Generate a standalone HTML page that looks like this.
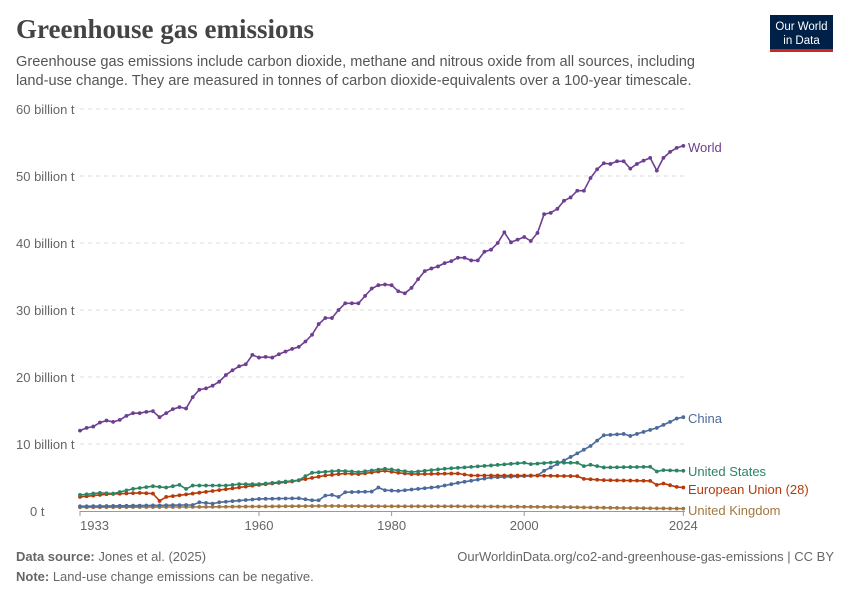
<!DOCTYPE html>
<html><head><meta charset="utf-8"><style>
body{margin:0;background:#fff;font-family:"Liberation Sans",sans-serif;}
svg{display:block}
</style></head><body>
<svg id="s" width="850" height="600" xmlns="http://www.w3.org/2000/svg" font-family="Liberation Sans, sans-serif">
<text x="16" y="38" font-family="Liberation Serif, serif" font-size="27" font-weight="bold" fill="#444">Greenhouse gas emissions</text>
<text x="16" y="66" font-size="14.6" fill="#555">Greenhouse gas emissions include carbon dioxide, methane and nitrous oxide from all sources, including</text>
<text x="16" y="85" font-size="14.6" fill="#555">land-use change. They are measured in tonnes of carbon dioxide-equivalents over a 100-year timescale.</text>
<rect x="770" y="15" width="63" height="35" fill="#002147"/>
<rect x="770" y="49" width="63" height="3" fill="#ce261e"/>
<text x="801.5" y="30" font-size="11.5" fill="#fff" text-anchor="middle">Our World</text>
<text x="801.5" y="44" font-size="11.5" fill="#fff" text-anchor="middle">in Data</text>
<g id="grid"></g>
<g id="series"></g>
<text x="16" y="561" font-size="13" fill="#666"><tspan font-weight="bold">Data source:</tspan> Jones et al. (2025)</text>
<text x="834" y="561" font-size="13" fill="#666" text-anchor="end">OurWorldinData.org/co2-and-greenhouse-gas-emissions | CC BY</text>
<text x="16" y="581" font-size="13" fill="#666"><tspan font-weight="bold">Note:</tspan> Land-use change emissions can be negative.</text>
</svg>
<script>
const NS="http://www.w3.org/2000/svg";
const X=y=>80+(y-1933)*6.63, Y=v=>511-v*6.7;
const g=document.getElementById('grid'), s=document.getElementById('series');
function el(p,t,a,txt){const e=document.createElementNS(NS,t);for(const k in a)e.setAttribute(k,a[k]);if(txt)e.textContent=txt;p.appendChild(e);return e;}
for(let i=1;i<=6;i++){const y=Y(i*10);
 el(g,'line',{x1:80,x2:685,y1:y,y2:y,stroke:'#ddd','stroke-dasharray':'4,4'});
 el(g,'text',{x:16,y:y+5,'font-size':13,fill:'#666'},i*10+' billion t');}
el(g,'text',{x:30,y:516,'font-size':13,fill:'#666'},'0 t');
el(g,'line',{x1:80,x2:685,y1:511.5,y2:511.5,stroke:'#999'});
[[1933,'start'],[1960],[1980],[2000],[2024]].forEach(([yr])=>{const x=X(yr);
 el(g,'line',{x1:x,x2:x,y1:511,y2:516,stroke:'#999'});
 el(g,'text',{x:yr==1933?80:x,y:530,'font-size':13,fill:'#666','text-anchor':yr==1933?'start':'middle'},yr);});
function interp(k){const o=[];for(let y=1933;y<=2024;y++){let i=0;while(i<k.length-2&&k[i+1][0]<y)i++;const[a,av]=k[i],[b,bv]=k[i+1];o.push(av+(bv-av)*(y-a)/(b-a));}return o;}
const world=[12.0,12.4,12.6,13.2,13.5,13.3,13.6,14.2,14.6,14.6,14.8,14.9,14.0,14.6,15.2,15.5,15.3,17.0,18.1,18.3,18.7,19.3,20.3,21.0,21.6,21.9,23.3,22.9,23.0,22.9,23.4,23.8,24.2,24.5,25.3,26.3,27.9,28.8,28.8,30.0,31.0,31.0,31.0,32.1,33.2,33.7,33.8,33.7,32.8,32.5,33.3,34.6,35.8,36.2,36.5,37.0,37.3,37.8,37.8,37.4,37.4,38.7,39.0,40.0,41.6,40.1,40.5,40.9,40.3,41.5,44.3,44.5,45.1,46.3,46.8,47.8,47.8,49.7,51.0,51.9,51.8,52.2,52.2,51.1,51.8,52.3,52.7,50.8,52.7,53.6,54.2,54.5];
const china=interp([[1933,0.7],[1950,0.9],[1951,1.3],[1952,1.2],[1953,1.1],[1954,1.3],[1960,1.8],[1966,1.9],[1968,1.6],[1969,1.6],[1970,2.3],[1971,2.4],[1972,2.1],[1973,2.8],[1977,2.9],[1978,3.5],[1979,3.1],[1981,3.0],[1987,3.6],[1990,4.2],[1995,5.0],[2000,5.2],[2002,5.3],[2003,6.0],[2005,7.0],[2008,8.6],[2010,9.7],[2011,10.5],[2012,11.3],[2015,11.5],[2016,11.2],[2018,11.8],[2020,12.4],[2022,13.3],[2023,13.8],[2024,14.0]]);
const us=interp([[1933,2.4],[1936,2.7],[1938,2.6],[1941,3.3],[1944,3.7],[1946,3.5],[1948,3.9],[1949,3.3],[1950,3.8],[1955,3.8],[1957,4.0],[1960,4.0],[1966,4.6],[1967,5.2],[1968,5.7],[1972,6.0],[1974,5.9],[1975,5.8],[1979,6.3],[1980,6.2],[1983,5.8],[1988,6.3],[1995,6.8],[2000,7.2],[2001,7.0],[2005,7.3],[2006,7.2],[2008,7.2],[2009,6.7],[2010,6.9],[2012,6.5],[2019,6.6],[2020,5.9],[2021,6.1],[2024,6.0]]);
const eu=interp([[1933,2.1],[1937,2.5],[1942,2.7],[1944,2.6],[1945,1.5],[1946,2.1],[1950,2.6],[1960,3.9],[1965,4.4],[1970,5.3],[1973,5.6],[1975,5.5],[1979,6.0],[1981,5.7],[1983,5.5],[1990,5.6],[1992,5.3],[1995,5.3],[2000,5.3],[2008,5.2],[2009,4.8],[2012,4.6],[2019,4.5],[2020,3.9],[2021,4.1],[2023,3.6],[2024,3.5]]);
const uk=interp([[1933,0.55],[1950,0.6],[1970,0.75],[1980,0.7],[1990,0.7],[2005,0.6],[2015,0.45],[2024,0.35]]);
function draw(d,c,label,ly){const pts=d.map((v,i)=>[X(1933+i),Y(v)]);
 el(s,'polyline',{points:pts.map(p=>p[0].toFixed(1)+','+p[1].toFixed(1)).join(' '),fill:'none',stroke:c,'stroke-width':1.6});
 pts.forEach(p=>el(s,'circle',{cx:p[0],cy:p[1],r:1.9,fill:c}));
 el(s,'text',{x:688,y:ly,'font-size':13,fill:c},label);}
draw(uk,'#a2763f','United Kingdom',515);
draw(china,'#4c6a9c','China',423);
draw(eu,'#b73a09','European Union (28)',494);
draw(us,'#2c8465','United States',476);
draw(world,'#6d3e91','World',152);
</script>
</body></html>
